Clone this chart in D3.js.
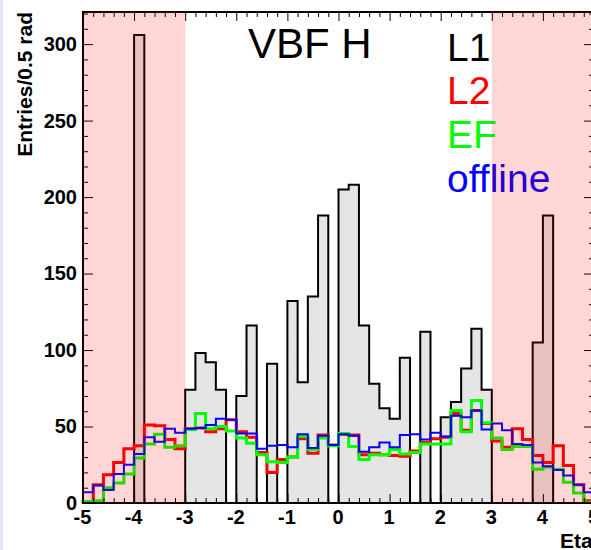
<!DOCTYPE html>
<html>
<head>
<meta charset="utf-8">
<script src="https://cdn.jsdelivr.net/npm/d3@7"></script>
<style>
  html, body { margin: 0; padding: 0; background: #ffffff; }
  svg { display: block; }
  text { font-family: "Liberation Sans", Arial, Helvetica, sans-serif; }
</style>
</head>
<body>
<svg id="chart" width="591" height="550"></svg>
<script>
// ---- data (bins of 0.2 in eta, from -5 to 5) ----
const binStart = -5, binWidth = 0.2, nBins = 50;
const xTicksMajor = [-5, -4, -3, -2, -1, 0, 1, 2, 3, 4, 5];
const yTicksMajor = [0, 50, 100, 150, 200, 250, 300];
const legendLabels = ["L1", "L2", "EF", "offline"];
const legendColors = ["#000000", "#ff0000", "#00ff00", "#0000ff"];
const titleText = "VBF H";
const xTitle = "Eta";
const yTitle = "Entries/0.5 rad";
const shadedRanges = [[-5, -3], [3, 5]];

const L1 = [0, 0, 0, 0, 0, 306, 0, 0, 0, 0,
            74, 98, 92, 74, 0, 70, 116, 0, 91, 0,
            132, 79, 135, 188, 0, 205, 208, 116, 78, 62,
            55, 95, 0, 112, 0, 56, 66, 88, 114, 74,
            0, 0, 0, 0, 105, 188, 0, 0, 0, 0];
const L2 = [1, 12, 18.5, 26.5, 35.5, 37.5, 51, 50.5, 41.5, 35.5,
            48.5, 49, 46.5, 48.5, 54.5, 46.5, 43, 33, 20, 28.5,
            30, 42, 32.5, 44.5, 38, 45, 44.5, 31.5, 32.5, 31.5,
            31, 30.5, 34, 39.5, 42, 43, 58.5, 47.5, 60.5, 52,
            40.5, 36.5, 48.5, 41.5, 31, 26.5, 37.5, 24.5, 12, 1.5];
const EF = [1, 1.5, 10, 13, 19, 29.5, 38.5, 45, 36.5, 37.5,
            48, 58.5, 48.5, 50, 47, 42.5, 39, 31.5, 27, 26.5,
            30, 43.5, 35, 42.5, 37.5, 45.5, 37, 28.5, 31.5, 31.5,
            35, 32, 33, 38.5, 38.5, 38.5, 60.5, 46.5, 67, 52.5,
            42.5, 35, 37, 37, 22, 23.5, 22, 13.5, 6.5, 0.5];
const offline = [7, 11.5, 8.5, 19, 25, 32, 43, 40, 48.5, 46,
                 48.5, 49, 51, 55, 54.5, 45.5, 45.5, 35.5, 37.5, 38,
                 36.5, 45, 36, 44, 38, 45, 44, 33.5, 36.5, 39.5,
                 36.5, 44.5, 45, 41.5, 46, 43.5, 57, 56, 60.5, 48,
                 52, 47.5, 38.5, 38, 26.5, 24, 21.5, 18, 12, 7];

// ---- layout ----
const W = 591, H = 550;
const pLeft = 83, pRight = 594, pTop = 12, pBottom = 503;

const svg = d3.select("#chart");
svg.append("rect").attr("x", 0).attr("y", 0).attr("width", W).attr("height", H).attr("fill", "#ffffff");
svg.append("rect").attr("x", 0).attr("y", 0).attr("width", 3).attr("height", H).attr("fill", "#e6e6f8");

const x = d3.scaleLinear().domain([-5, 5]).range([pLeft, pRight]);
const y = d3.scaleLinear().domain([0, 321]).range([pBottom, pTop]);

const edges = d3.range(nBins + 1).map(i => binStart + i * binWidth);

function stepPoints(vals) {
  const pts = [[edges[0], 0]];
  vals.forEach((v, i) => { pts.push([edges[i], v]); pts.push([edges[i + 1], v]); });
  pts.push([edges[nBins], 0]);
  return pts;
}
const line = d3.line().x(d => x(d[0])).y(d => y(d[1]));

const plot = svg.append("g");
// L1 filled histogram
plot.append("path").attr("d", line(stepPoints(L1)) + "Z")
  .attr("fill", "#e5e5e5").attr("stroke", "#000").attr("stroke-width", 2)
  .attr("stroke-linejoin", "miter");

const series = [
  { vals: L2, color: "#ff0000", w: 3 },
  { vals: EF, color: "#00ff00", w: 3 },
  { vals: offline, color: "#0000ff", w: 2 }
];
series.forEach(s => {
  plot.append("path").attr("d", line(stepPoints(s.vals)))
    .attr("fill", "none").attr("stroke", s.color).attr("stroke-width", s.w)
    .attr("stroke-linejoin", "miter");
});

// ---- axes ----
const xMinor = d3.range(0, 51).map(i => -5 + i * 0.2).filter(v => Math.abs(v - Math.round(v)) > 1e-6);
const yMinor = d3.range(0, 33).map(i => i * 10).filter(v => v % 50 !== 0 && v <= 321);

function styleAxis(g) {
  g.select(".domain").remove();
  g.selectAll(".tick line").attr("stroke", "#000").attr("stroke-width", 1);
}

const gx = svg.append("g").attr("transform", `translate(0,${pBottom})`)
  .call(d3.axisBottom(x).tickValues(xTicksMajor).tickSize(-9).tickPadding(7)
    .tickFormat(d => String(d)))
  .call(styleAxis);
gx.selectAll("text").attr("font-size", 20).attr("font-weight", "bold")
  .attr("fill", "#000").attr("font-family", "'Liberation Sans', Arial, sans-serif")
  .attr("dx", -1);
svg.append("g").attr("transform", `translate(0,${pBottom})`)
  .call(d3.axisBottom(x).tickValues(xMinor).tickSize(-5).tickFormat(""))
  .call(styleAxis);
svg.append("g").attr("transform", `translate(0,${pTop})`)
  .call(d3.axisTop(x).tickValues(xTicksMajor).tickSize(-9).tickFormat(""))
  .call(styleAxis);
svg.append("g").attr("transform", `translate(0,${pTop})`)
  .call(d3.axisTop(x).tickValues(xMinor).tickSize(-5).tickFormat(""))
  .call(styleAxis);

const gy = svg.append("g").attr("transform", `translate(${pLeft},0)`)
  .call(d3.axisLeft(y).tickValues(yTicksMajor).tickSize(-10).tickPadding(6)
    .tickFormat(d => String(d)))
  .call(styleAxis);
gy.selectAll("text").attr("font-size", 20).attr("font-weight", "bold")
  .attr("fill", "#000").attr("font-family", "'Liberation Sans', Arial, sans-serif");
svg.append("g").attr("transform", `translate(${pLeft},0)`)
  .call(d3.axisLeft(y).tickValues(yMinor).tickSize(-5).tickFormat(""))
  .call(styleAxis);
svg.append("g").attr("transform", `translate(${pRight},0)`)
  .call(d3.axisRight(y).tickValues(yTicksMajor).tickSize(-10).tickFormat(""))
  .call(styleAxis);
svg.append("g").attr("transform", `translate(${pRight},0)`)
  .call(d3.axisRight(y).tickValues(yMinor).tickSize(-5).tickFormat(""))
  .call(styleAxis);

// frame
svg.append("rect").attr("x", pLeft).attr("y", pTop)
  .attr("width", pRight - pLeft).attr("height", pBottom - pTop)
  .attr("fill", "none").attr("stroke", "#000").attr("stroke-width", 2);

// ---- texts ----
svg.append("text").attr("x", 248).attr("y", 58).attr("font-size", 42)
  .attr("fill", "#000").text(titleText);
const legendY = [61, 104, 148, 192];
legendLabels.forEach((lab, i) => {
  svg.append("text").attr("x", 447).attr("y", legendY[i]).attr("font-size", 39)
    .attr("fill", legendColors[i]).text(lab);
});
svg.append("text").attr("x", 560).attr("y", 548).attr("font-size", 21)
  .attr("font-weight", "bold").attr("fill", "#000").text(xTitle);
svg.append("text").attr("transform", `translate(32,${pTop}) rotate(-90)`)
  .attr("text-anchor", "end").attr("font-size", 21).attr("font-weight", "bold")
  .attr("fill", "#000").text(yTitle);

// ---- shaded forward regions ----
shadedRanges.forEach(r => {
  svg.append("rect").attr("x", x(r[0])).attr("y", pTop)
    .attr("width", x(r[1]) - x(r[0])).attr("height", pBottom - pTop)
    .attr("fill", "rgba(255,0,0,0.16)");
});
</script>
</body>
</html>
